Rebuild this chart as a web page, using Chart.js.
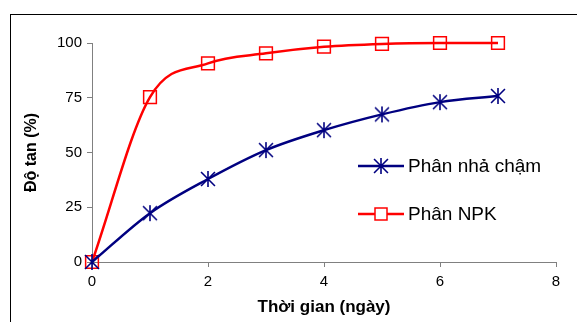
<!DOCTYPE html>
<html>
<head>
<meta charset="utf-8">
<script src="https://cdn.jsdelivr.net/npm/chart.js@4"></script>
<style>
  html, body { margin: 0; padding: 0; background: #fff; overflow: hidden; }
  #wrap { position: relative; width: 577px; height: 322px; }
  #frame { position: absolute; left: 10px; top: 14px; width: 700px; height: 400px; border: 1px solid #000; box-sizing: border-box; }
  canvas { position: absolute; left: 0; top: 0; }
</style>
</head>
<body>
<div id="wrap">
  <div id="frame"></div>
  <canvas id="chart" width="577" height="322"></canvas>
</div>
<script>
// days
const days = [0, 1, 2, 3, 4, 5, 6, 7];
// dissolution (%)
const slowRelease = [0, 22.3, 37.9, 51.1, 60.2, 67.4, 73, 75.8];
const npk = [0, 75.3, 90.7, 95.3, 98.3, 99.6, 100, 100];
const seriesNames = ['Phân nhả chậm', 'Phân NPK'];
const xTicks = [0, 2, 4, 6, 8];
const yTicks = [0, 25, 50, 75, 100];

const NAVY = '#000080';
const RED = '#ff0000';
const FONT = '"Liberation Sans", Arial, sans-serif';

// asterisk marker like excel (X + vertical bar)
function starMarker(size, color) {
  const c = document.createElement('canvas');
  c.width = size; c.height = size;
  const g = c.getContext('2d');
  const m = size / 2, r = size / 2 - 1;
  g.strokeStyle = color;
  g.lineWidth = 1.6;
  g.beginPath();
  g.moveTo(m, m - r); g.lineTo(m, m + r);
  g.moveTo(m - r * 0.87, m - r * 0.87); g.lineTo(m + r * 0.87, m + r * 0.87);
  g.moveTo(m + r * 0.87, m - r * 0.87); g.lineTo(m - r * 0.87, m + r * 0.87);
  g.stroke();
  return c;
}
const star = starMarker(18, NAVY);

function pts(ys) {
  return days.map((d, i) => ({ x: d, y: ys[i] }));
}

// legend drawn inside the plot, like the original
const insideLegend = {
  id: 'insideLegend',
  afterDraw(chart) {
    const ctx = chart.ctx;
    const rows = [166, 214];
    ctx.save();
    chart.data.datasets.forEach((ds, i) => {
      const y = rows[i];
      ctx.strokeStyle = ds.borderColor;
      ctx.lineWidth = ds.borderWidth;
      ctx.beginPath();
      ctx.moveTo(358, y); ctx.lineTo(404, y);
      ctx.stroke();
      if (i === 0) {
        ctx.drawImage(star, 381 - 9, y - 9);
      } else {
        ctx.lineWidth = 1.5;
        ctx.fillStyle = '#fff';
        ctx.fillRect(375, y - 6, 12, 12);
        ctx.strokeRect(375, y - 6, 12, 12);
      }
      ctx.fillStyle = '#000';
      ctx.font = '19px ' + FONT;
      ctx.textBaseline = 'middle';
      ctx.fillText(ds.label, 408, y + 1);
    });
    ctx.restore();
  }
};

new Chart(document.getElementById('chart'), {
  type: 'line',
  data: {
    datasets: [
      {
        label: seriesNames[0],
        data: pts(slowRelease),
        borderColor: NAVY,
        backgroundColor: NAVY,
        borderWidth: 2.5,
        pointStyle: star,
        cubicInterpolationMode: 'monotone',
        clip: false
      },
      {
        label: seriesNames[1],
        data: pts(npk),
        borderColor: RED,
        backgroundColor: 'rgba(255,255,255,0)',
        borderWidth: 2.5,
        pointStyle: 'rect',
        pointRadius: 9,
        pointBorderWidth: 1.5,
        pointBorderColor: RED,
        cubicInterpolationMode: 'monotone',
        clip: false
      }
    ]
  },
  options: {
    responsive: false,
    animation: false,
    layout: { padding: { left: 0, top: 43, right: 21, bottom: 0 } },
    plugins: {
      legend: { display: false },
      tooltip: { enabled: false }
    },
    scales: {
      x: {
        type: 'linear',
        min: 0,
        max: 8,
        afterBuildTicks: s => { s.ticks = xTicks.map(v => ({ value: v })); },
        afterFit: s => { s.height = 60; },
        grid: { drawOnChartArea: false, tickLength: 5, color: '#808080' },
        border: { color: '#808080', width: 1 },
        ticks: { color: '#000', padding: 6, font: { size: 15, family: FONT } },
        title: {
          display: true,
          text: 'Thời gian (ngày)',
          color: '#000',
          padding: { top: 0 },
          font: { size: 17, weight: 'bold', family: FONT }
        }
      },
      y: {
        min: 0,
        max: 100,
        afterBuildTicks: s => { s.ticks = yTicks.map(v => ({ value: v })); },
        afterFit: s => { s.width = 92; },
        grid: { drawOnChartArea: false, tickLength: 5, color: '#808080' },
        border: { color: '#808080', width: 1 },
        ticks: { color: '#000', padding: 5, font: { size: 15, family: FONT } },
        title: {
          display: true,
          text: 'Độ tan (%)',
          color: '#000',
          padding: { top: 22, bottom: 0 },
          font: { size: 16, weight: 'bold', family: FONT }
        }
      }
    }
  },
  plugins: [insideLegend]
});
</script>
</body>
</html>
